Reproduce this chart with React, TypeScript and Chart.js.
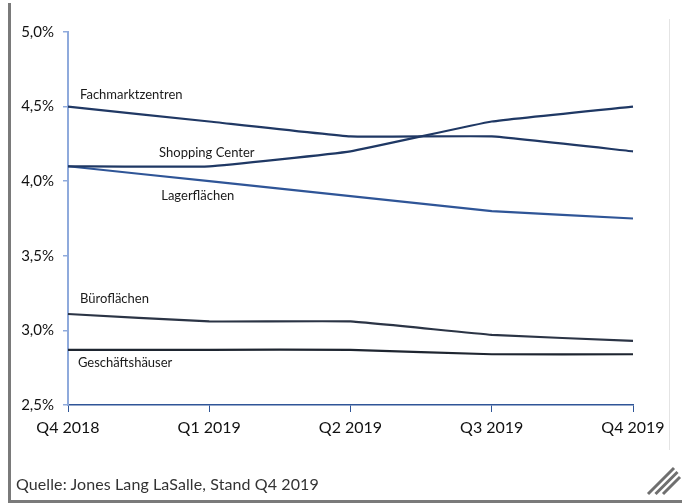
import React, { useEffect, useRef } from "react";
import { Chart, registerables } from "chart.js";

Chart.register(...registerables);

const categories = ["Q4 2018", "Q1 2019", "Q2 2019", "Q3 2019", "Q4 2019"];
const yTicks = [2.5, 3.0, 3.5, 4.0, 4.5, 5.0];

const fachmarktzentren = [4.5, 4.4, 4.3, 4.3, 4.2];
const shoppingCenter = [4.1, 4.1, 4.2, 4.4, 4.5];
const lagerflaechen = [4.1, 4.0, 3.9, 3.8, 3.75];
const bueroflaechen = [3.11, 3.06, 3.06, 2.97, 2.93];
const geschaeftshaeuser = [2.87, 2.87, 2.87, 2.84, 2.84];

const seriesNames = ["Fachmarktzentren", "Shopping Center", "Lagerflächen", "Büroflächen", "Geschäftshäuser"];
const seriesColors = ["#203864", "#1f3864", "#2f5597", "#2b3445", "#1e2530"];
// label anchor: category position (fractional index) and value
const labelIndex = [0.085, 0.645, 0.66, 0.085, 0.07];
const labelValue = [4.58, 4.19, 3.905, 3.215, 2.78];

const sourceText = "Quelle: Jones Lang LaSalle, Stand Q4 2019";

const seriesLabels = {
  id: "seriesLabels",
  afterDatasetsDraw(chart: any) {
    const { ctx, scales } = chart;
    ctx.save();
    ctx.font = "13px Lato";
    ctx.fillStyle = "#1a1a1a";
    ctx.textAlign = "left";
    ctx.textBaseline = "middle";
    seriesNames.forEach((name, i) => {
      const x = scales.x.getPixelForValue(labelIndex[i]);
      const y = scales.y.getPixelForValue(labelValue[i]);
      ctx.fillText(name, x, y);
    });
    ctx.restore();
  },
};

const hatchLengths = [26, 22, 17];

const decorations = {
  id: "decorations",
  afterDraw(chart: any) {
    const { ctx } = chart;
    ctx.save();
    // light right frame line
    ctx.strokeStyle = "#e4e4e4";
    ctx.lineWidth = 1;
    ctx.beginPath();
    ctx.moveTo(669.5, 19);
    ctx.lineTo(669.5, 450);
    ctx.stroke();
    // hatch marks
    ctx.strokeStyle = "#6f6f6f";
    ctx.lineWidth = 3;
    ctx.lineCap = "butt";
    hatchLengths.forEach((L, k) => {
      const x0 = 648 + 7.5 * k;
      const y0 = 494;
      ctx.beginPath();
      ctx.moveTo(x0, y0);
      ctx.lineTo(x0 + L, y0 - L);
      ctx.stroke();
    });
    ctx.restore();
  },
};

export default function App() {
  const ref = useRef<HTMLCanvasElement>(null);

  useEffect(() => {
    if (!ref.current) return;
    const chart = new Chart(ref.current, {
      type: "line",
      data: {
        labels: categories,
        datasets: [fachmarktzentren, shoppingCenter, lagerflaechen, bueroflaechen, geschaeftshaeuser].map((d, i) => ({
          label: seriesNames[i],
          data: d,
          borderColor: seriesColors[i],
          backgroundColor: seriesColors[i],
          borderWidth: 2.2,
          pointRadius: 0,
          tension: 0.1,
          fill: false,
        })),
      },
      options: {
        animation: false,
        responsive: false,
        maintainAspectRatio: false,
        layout: { padding: { left: 0, right: 49, top: 32, bottom: 0 } },
        plugins: {
          legend: { display: false },
          tooltip: { enabled: false },
        },
        scales: {
          x: {
            type: "category",
            offset: false,
            grid: {
              display: true,
              drawOnChartArea: false,
              drawTicks: true,
              tickLength: 7,
              color: "#2f5597",
              lineWidth: 1,
            },
            border: { display: true, color: "#2f5597", width: 1.5 },
            ticks: {
              color: "#111111",
              font: { family: "Lato", size: 16 },
              padding: 6,
              maxRotation: 0,
              autoSkip: false,
            },
            afterFit: (s: any) => {
              s.height = 99;
            },
          },
          y: {
            type: "linear",
            min: 2.5,
            max: 5.0,
            afterBuildTicks: (s: any) => {
              s.ticks = yTicks.map((v) => ({ value: v }));
            },
            grid: {
              display: true,
              drawOnChartArea: false,
              drawTicks: true,
              tickLength: 5,
              color: "#8faadc",
              lineWidth: 1.5,
            },
            border: { display: true, color: "#8faadc", width: 2 },
            ticks: {
              color: "#111111",
              font: { family: "Lato", size: 15 },
              padding: 9,
              callback: (v: any) => Number(v).toFixed(1).replace(".", ",") + "%",
            },
            afterFit: (s: any) => {
              s.width = 68;
            },
          },
        },
      },
      plugins: [seriesLabels, decorations],
    });
    return () => chart.destroy();
  }, []);

  return (
    <div style={{ position: "absolute", left: 0, top: 0, width: 682, height: 504, background: "#fff", overflow: "hidden" }}>
      <div
        style={{
          position: "absolute",
          left: 8,
          top: 3,
          width: 682 - 8,
          height: 504 - 3 - 1,
          borderLeft: "3px solid #7a7a7a",
          borderBottom: "3px solid #7a7a7a",
          boxSizing: "border-box",
        }}
      />
      <canvas ref={ref} width={682} height={504} style={{ position: "absolute", left: 0, top: 0, width: 682, height: 504 }} />
      <div
        style={{
          position: "absolute",
          left: 16,
          top: 474,
          fontFamily: "Lato",
          fontSize: 16,
          letterSpacing: 0.1,
          color: "#333333",
          whiteSpace: "nowrap",
        }}
      >
        {sourceText}
      </div>
    </div>
  );
}
